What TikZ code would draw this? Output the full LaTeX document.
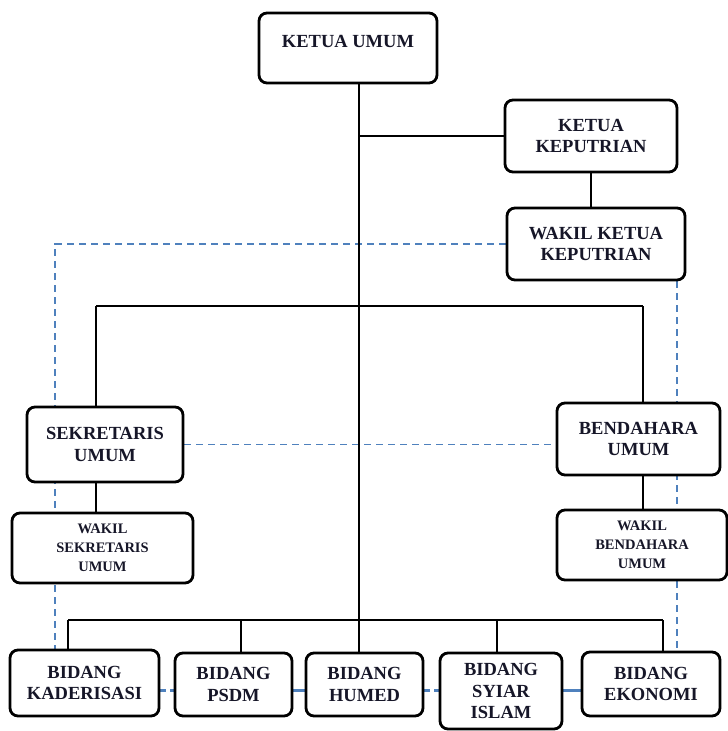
\documentclass[tikz,border=0pt]{standalone}
\usepackage{fontspec}
\setmainfont{Liberation Serif}
\usetikzlibrary{calc}
\pgfdeclarelayer{background}
\pgfsetlayers{background,main}
\definecolor{linkblue}{RGB}{79,129,189}
\definecolor{txt}{RGB}{22,22,40}
\begin{document}
\begin{tikzpicture}[x=1pt,y=-1pt,
  orgbox/.style={draw=black,line width=2.8pt,rounded corners=8pt,fill=white,
    inner sep=0pt,align=center,text=txt,
    font=\fontsize{18.5}{21.5}\selectfont\bfseries},
  smallbox/.style={orgbox,font=\fontsize{14.5}{19}\selectfont\bfseries},
  link/.style={line width=2.4pt,black},
  dlink/.style={line width=1.7pt,linkblue,dash pattern=on 7pt off 5pt},
  blink/.style={line width=3pt,linkblue},
  bdlink/.style={line width=3pt,linkblue,dash pattern=on 6pt off 4pt}]
\useasboundingbox (0,0) rectangle (728,731);

% coordinates for connector lines
\coordinate (t0) at (359,0);
\coordinate (lx) at (96,306);
\coordinate (rx) at (643,306);
\coordinate (bl) at (55,0);
\coordinate (br) at (677,0);
\coordinate (bus) at (0,620);
\coordinate (bidy) at (0,690);
\coordinate (kx) at (68,0);
\coordinate (px) at (241,0);
\coordinate (sx) at (497,0);
\coordinate (ex) at (663,0);

% nodes
\node[orgbox,minimum width=178pt,minimum height=70pt,text depth=14pt] (ketua) at (348,48) {KETUA UMUM};
\node[orgbox,minimum width=172pt,minimum height=72pt] (kput) at (591,136) {KETUA\\KEPUTRIAN};
\node[orgbox,minimum width=178pt,minimum height=72pt] (wkput) at (596,244) {WAKIL KETUA\\KEPUTRIAN};
\node[orgbox,minimum width=156pt,minimum height=75pt] (sek) at (105,444.5) {SEKRETARIS\\UMUM};
\node[smallbox,minimum width=181pt,minimum height=70pt] (wsek) at (102.5,548) {WAKIL\\SEKRETARIS\\UMUM};
\node[orgbox,minimum width=163pt,minimum height=72pt] (bend) at (638.5,439) {BENDAHARA\\UMUM};
\node[smallbox,minimum width=170pt,minimum height=70pt] (wbend) at (642,545) {WAKIL\\BENDAHARA\\UMUM};
\node[orgbox,minimum width=149pt,minimum height=66pt] (kad) at (84.5,683) {BIDANG\\KADERISASI};
\node[orgbox,minimum width=117pt,minimum height=63pt] (psdm) at (233.5,684.5) {BIDANG\\PSDM};
\node[orgbox,minimum width=117pt,minimum height=63pt] (humed) at (364.5,684.5) {BIDANG\\HUMED};
\node[orgbox,minimum width=122pt,minimum height=76pt] (syiar) at (501,691) {BIDANG\\SYIAR\\ISLAM};
\node[orgbox,minimum width=138pt,minimum height=64pt] (eko) at (651,684) {BIDANG\\EKONOMI};

\begin{pgfonlayer}{background}
% dashed coordination lines (behind boxes)
\draw[dlink] (wkput.west) -- (wkput.west -| bl) -- (bl |- kad.north);
\draw[dlink] (br |- wkput.south) -- (br |- eko.north);
\draw[dlink] (sek.east) -- (sek.east -| bend.west);
\draw[bdlink] (kad.east |- bidy) -- (psdm.west |- bidy);
\draw[blink] (psdm.east |- bidy) -- (humed.west |- bidy);
\draw[bdlink] (humed.east |- bidy) -- (syiar.west |- bidy);
\draw[blink] (syiar.east |- bidy) -- (eko.west |- bidy);
% solid hierarchy lines
\draw[link] (t0 |- ketua.south) -- (t0 |- humed.north);
\draw[link] (t0 |- kput.west) -- (kput.west);
\draw[link] (kput.south) -- (kput.south |- wkput.north);
\draw[link] (lx) -- (rx);
\draw[link] (lx) -- (lx |- sek.north);
\draw[link] (rx) -- (rx |- bend.north);
\draw[link] (lx |- sek.south) -- (lx |- wsek.north);
\draw[link] (rx |- bend.south) -- (rx |- wbend.north);
\draw[link] (kx |- bus) -- (ex |- bus);
\draw[link] (kx |- bus) -- (kx |- kad.north);
\draw[link] (px |- bus) -- (px |- psdm.north);
\draw[link] (sx |- bus) -- (sx |- syiar.north);
\draw[link] (ex |- bus) -- (ex |- eko.north);
\end{pgfonlayer}
\end{tikzpicture}
\end{document}
